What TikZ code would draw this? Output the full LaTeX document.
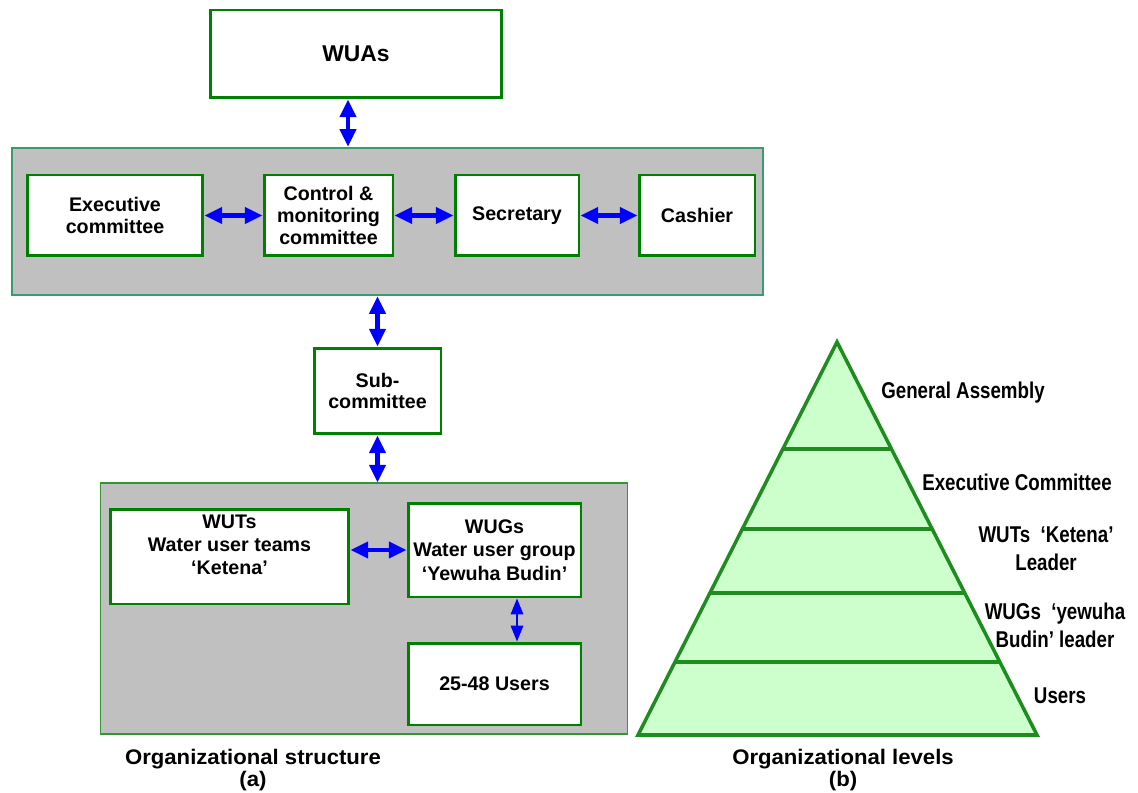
\documentclass[tikz,border=0pt]{standalone}
\usepackage{fontspec}
\setmainfont{Liberation Sans}
\newfontfamily\narrowfont[FakeStretch=0.82]{Liberation Sans}
\newfontfamily\captionfont[FakeStretch=1.05]{Liberation Sans}
\newcommand\tightlines{\lineskiplimit=-10pt\relax}
\usetikzlibrary{arrows.meta,calc}

\definecolor{boxgreen}{RGB}{0,128,0}
\definecolor{panelgray}{RGB}{192,192,192}
\definecolor{councilgreen}{RGB}{60,155,110}
\definecolor{lowergreen}{RGB}{50,150,50}
\definecolor{linkblue}{RGB}{0,0,255}
\definecolor{tierfill}{RGB}{204,255,204}
\definecolor{tiergreen}{RGB}{30,140,30}

\begin{document}
\begin{tikzpicture}[x=0.02cm, y=-0.02cm,
    % Styles
    unit/.style={draw=boxgreen, fill=white, line width=1.7pt, align=center, inner sep=2pt,
        font=\fontsize{11.2}{12.3}\selectfont\bfseries},
    panel/.style={fill=panelgray, inner sep=0pt},
    link/.style={{Triangle[width=9pt,length=10pt]}-{Triangle[width=9pt,length=10pt]}, line width=2.4pt, linkblue},
    thinlink/.style={{Triangle[width=7pt,length=9pt]}-{Triangle[width=7pt,length=9pt]}, line width=1.2pt, linkblue},
    tier/.style={draw=tiergreen, fill=tierfill, line width=2pt},
    tierline/.style={draw=tiergreen, line width=2pt},
    level/.style={font=\narrowfont\fontsize{13}{16}\selectfont\bfseries, align=center},
    caption/.style={font=\captionfont\fontsize{12}{12.5}\selectfont\bfseries\tightlines, align=center},
]
\useasboundingbox (0,0) rectangle (1138,793);

% LEFT: Organizational structure
\node[unit, font=\fontsize{13}{15}\selectfont\bfseries, minimum width=5.84cm, minimum height=1.76cm] (wuas) at (356,54) {WUAs};

% Council panel
\node[panel, draw=councilgreen, line width=1.4pt, minimum width=15.02cm, minimum height=2.94cm] (council) at (387.5,221.5) {};
\node[unit, minimum width=3.52cm, minimum height=1.62cm] (exec) at (115,215.5) {Executive\\committee};
\node[unit, minimum width=2.58cm, minimum height=1.62cm] (control) at (328.5,215.5) {Control \&\\monitoring\\committee};
\node[unit, minimum width=2.48cm, minimum height=1.62cm] (secretary) at (517,215.5) {Secretary};
\node[unit, minimum width=2.32cm, minimum height=1.62cm] (cashier) at (697,215.5) {Cashier};

\node[unit, minimum width=2.54cm, minimum height=1.72cm] (sub) at (377.5,391) {Sub-\\committee};

% Users panel
\node[panel, draw=lowergreen, line width=0.6pt, minimum width=10.56cm, minimum height=5.02cm] (grassroots) at (364,608.5) {};
\node[unit, minimum width=4.78cm, minimum height=1.9cm, font=\fontsize{11.2}{13.3}\selectfont\bfseries] (wuts) at (229.5,556.5) {WUTs\\Water user teams\\‘Ketena’\\\mbox{}};
\node[unit, minimum width=3.46cm, minimum height=1.88cm, font=\fontsize{11.2}{13.3}\selectfont\bfseries] (wugs) at (494.5,550) {WUGs\\Water user group\\‘Yewuha Budin’};
\node[unit, minimum width=3.46cm, minimum height=1.64cm] (users) at (494.5,684) {25-48 Users};

% Connectors
\draw[link] ([xshift=-0.16cm]wuas.south) -- ([xshift=-0.16cm]wuas.south |- council.north);
\draw[link] (exec) -- (control);
\draw[link] (control) -- (secretary);
\draw[link] (secretary) -- (cashier);
\draw[link] (sub.north |- council.south) -- (sub.north);
\draw[link] (sub.south) -- (sub.south |- grassroots.north);
\draw[link] (wuts.east |- wugs.west) -- (wugs.west);
\draw[thinlink] ([xshift=0.45cm]wugs.south) -- ([xshift=0.45cm]wugs.south |- users.north);

\node[caption] (cap-a) at (253,770) {Organizational structure\\(a)};

% RIGHT: Organizational levels
\coordinate (apex) at (837,342);
\coordinate (base-l) at (638,735);
\coordinate (base-r) at (1037,735);
\draw[tier] (apex) -- (base-l) -- (base-r) -- cycle;
\foreach \t in {0.2723,0.4758,0.6387,0.8142}
    \draw[tierline] ($(apex)!\t!(base-l)$) -- ($(apex)!\t!(base-r)$);

\node[level] (lvl-ga) at (963,393) {General Assembly};
\node[level] (lvl-ec) at (1017,482) {Executive Committee};
\node[level] (lvl-wut) at (1046,549) {WUTs\ \ ‘Ketena’\\Leader};
\node[level] (lvl-wug) at (1055,625) {WUGs\ \ ‘yewuha\\Budin’ leader};
\node[level] (lvl-users) at (1060,696) {Users};

\node[caption] (cap-b) at (843,770) {Organizational levels\\(b)};

\end{tikzpicture}
\end{document}
